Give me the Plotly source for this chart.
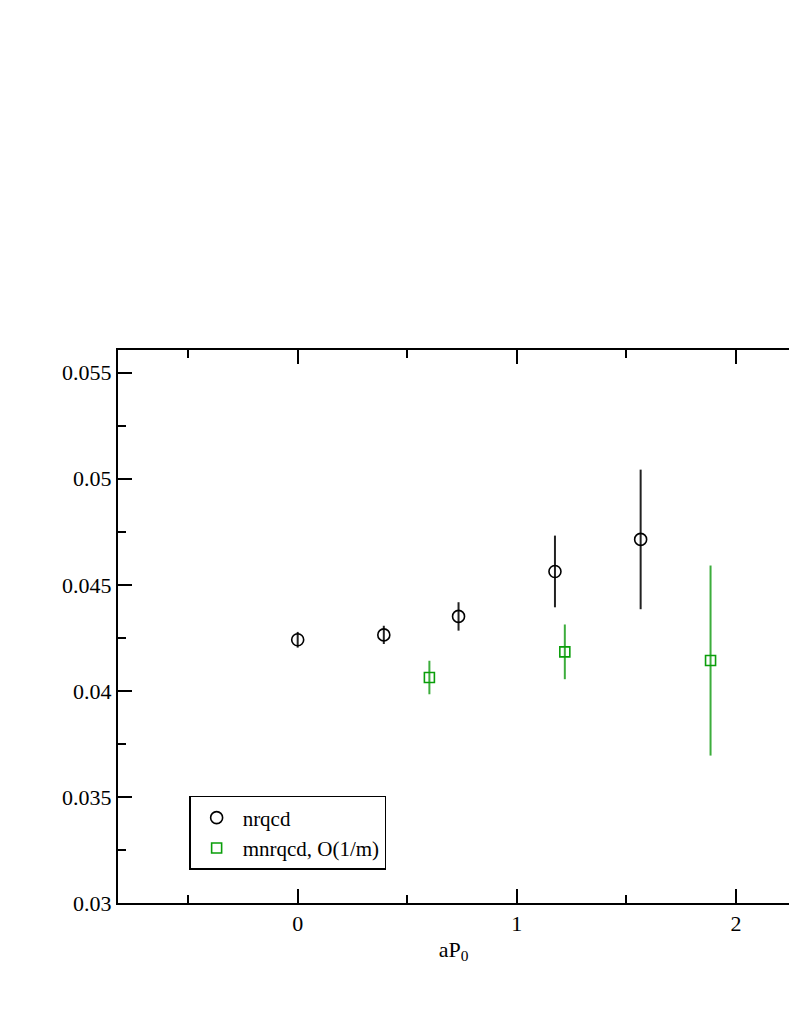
import plotly.graph_objects as go

# nrqcd data (black open circles)
nrqcd_x = [0.0, 0.393, 0.734, 1.174, 1.565]
nrqcd_y = [0.04241, 0.04264, 0.04351, 0.04563, 0.04714]
nrqcd_err = [0.00037, 0.00043, 0.00067, 0.00169, 0.00329]

# mnrqcd, O(1/m) data (green open squares)
mnrqcd_x = [0.601, 1.219, 1.884]
mnrqcd_y = [0.04063, 0.04184, 0.04143]
mnrqcd_err = [0.00079, 0.00129, 0.00448]

FONT = "Liberation Serif"
GREEN = "#0a9e0a"

fig = go.Figure()

fig.add_trace(go.Scatter(
    x=nrqcd_x, y=nrqcd_y,
    mode="markers",
    name="nrqcd",
    marker=dict(symbol="circle-open", size=12, color="black", line=dict(width=1.6, color="black")),
    error_y=dict(type="data", array=nrqcd_err, visible=True, width=0, thickness=2, color="#222222"),
))

fig.add_trace(go.Scatter(
    x=mnrqcd_x, y=mnrqcd_y,
    mode="markers",
    name="mnrqcd, O(1/m)",
    marker=dict(symbol="square-open", size=10, color=GREEN, line=dict(width=1.6, color=GREEN)),
    error_y=dict(type="data", array=mnrqcd_err, visible=True, width=0, thickness=2, color="#3cad3c"),
))

fig.update_layout(
    width=789,
    height=1021,
    autosize=False,
    margin=dict(l=118, r=0, t=350, b=118),
    paper_bgcolor="white",
    plot_bgcolor="white",
    font=dict(family=FONT, size=21, color="black"),
    showlegend=True,
    legend=dict(
        x=0.106, y=0.1935, xanchor="left", yanchor="top",
        bordercolor="black", borderwidth=1.5, bgcolor="white",
        font=dict(family=FONT, size=21),
        itemwidth=42,
        tracegroupgap=0,
    ),
)

fig.update_xaxes(
    range=[-0.82, 2.242],
    showgrid=False, zeroline=False,
    showline=True, linecolor="black", linewidth=2,
    mirror="ticks",
    ticks="inside", ticklen=14, tickwidth=2, tickcolor="black",
    dtick=1, tick0=0,
    minor=dict(ticks="inside", ticklen=8, tickwidth=1.5, tickcolor="black", dtick=0.5, showgrid=False),
    tickfont=dict(family=FONT, size=22),
    title=dict(text="aP<sub>0</sub>", font=dict(family=FONT, size=22), standoff=6),
)

fig.update_yaxes(
    range=[0.03, 0.05607],
    showgrid=False, zeroline=False,
    showline=True, linecolor="black", linewidth=2,
    mirror=False,
    ticks="inside", ticklen=14, tickwidth=2, tickcolor="black",
    dtick=0.005, tick0=0.03,
    minor=dict(ticks="inside", ticklen=8, tickwidth=1.5, tickcolor="black", dtick=0.0025, showgrid=False),
    tickfont=dict(family=FONT, size=22),
    tickformat="~g",
)

fig.write_html(
    "out.html",
    config={"responsive": False, "displayModeBar": False},
    post_script="document.body.style.margin='0';document.body.style.overflow='hidden';",
)
